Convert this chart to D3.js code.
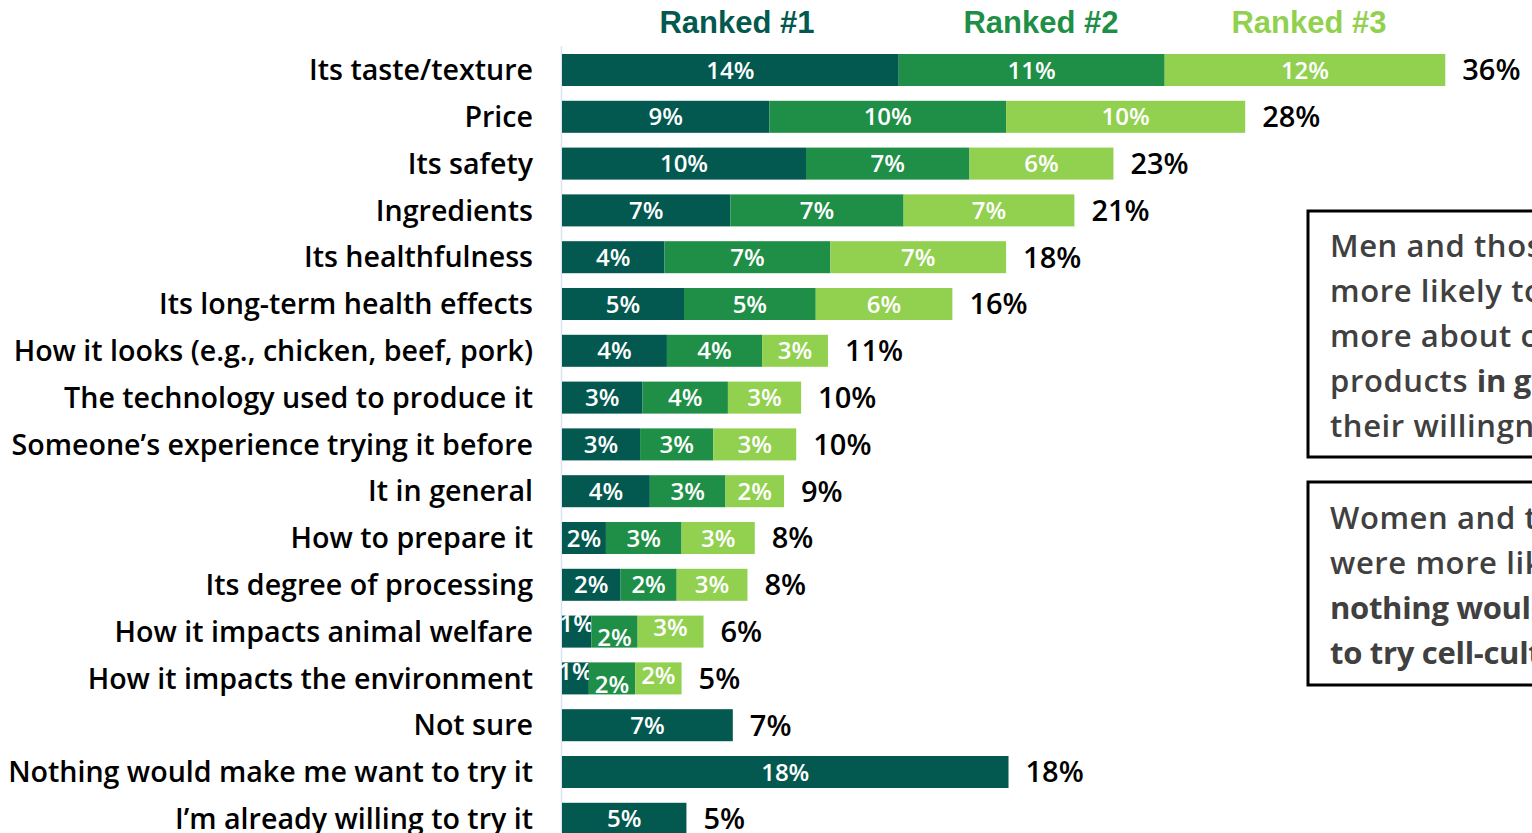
<!DOCTYPE html>
<html>
<head>
<meta charset="utf-8">
<script src="https://cdn.jsdelivr.net/npm/d3@7"></script>
<style>
  html, body { margin: 0; padding: 0; background: #fff; overflow: hidden; }
  svg { display: block; }
</style>
</head>
<body>
<svg id="chart" width="1532" height="833"></svg>
<script>
// What would make respondents want to try it — top-3 ranked reasons (%)
const categories = [
  "Its taste/texture",
  "Price",
  "Its safety",
  "Ingredients",
  "Its healthfulness",
  "Its long-term health effects",
  "How it looks (e.g., chicken, beef, pork)",
  "The technology used to produce it",
  "Someone\u2019s experience trying it before",
  "It in general",
  "How to prepare it",
  "Its degree of processing",
  "How it impacts animal welfare",
  "How it impacts the environment",
  "Not sure",
  "Nothing would make me want to try it",
  "I\u2019m already willing to try it"
];
const seriesNames = ["Ranked #1", "Ranked #2", "Ranked #3"];
const ranked1 = [13.8, 8.5, 10.0, 6.9, 4.2, 5.0, 4.3, 3.3, 3.2, 3.6, 1.8, 2.4, 1.2, 1.1, 7.0, 18.3, 5.1];
const ranked2 = [10.9, 9.7, 6.7, 7.1, 6.8, 5.4, 3.9, 3.5, 3.0, 3.1, 3.1, 2.3, 1.9, 1.9, 0, 0, 0];
const ranked3 = [11.5, 9.8, 5.9, 7.0, 7.2, 5.6, 2.7, 3.0, 3.4, 2.4, 3.0, 2.9, 2.7, 1.9, 0, 0, 0];
const colors = ["#03594f", "#1f8f47", "#92d050"];

// label nudges for the crowded thin bars (row index -> per-segment dy)
const labelNudge = { 12: [-8, 6, -4], 13: [-7, 6, -3] };

const svg = d3.select("#chart");
const W = 1532, H = 833;

const x = d3.scaleLinear().domain([0, 36]).range([562, 562 + 36 * 24.4]);
const y = d3.scaleBand()
  .domain(categories)
  .range([46.6, 46.6 + categories.length * 46.8])
  .paddingInner(0.316)
  .paddingOuter(0.158);

const rows = categories.map((c, i) => ({
  cat: c, i, vals: [ranked1[i], ranked2[i], ranked3[i]]
}));
const stack = d3.stack().keys([0, 1, 2]).value((d, k) => d.vals[k]);
const layers = stack(rows);

const fmt = v => Math.round(v) + "%";
const FONT = "'Open Sans', 'Liberation Sans', Arial, sans-serif";

// left axis line
svg.append("line")
  .attr("x1", 561.5).attr("x2", 561.5)
  .attr("y1", 46).attr("y2", H)
  .attr("stroke", "#d9e3f1").attr("stroke-width", 1.5);

// category labels
svg.append("g").selectAll("text")
  .data(categories)
  .join("text")
  .attr("x", 533)
  .attr("y", d => y(d) + y.bandwidth() / 2)
  .attr("dy", "0.36em")
  .attr("text-anchor", "end")
  .attr("font-family", FONT)
  .attr("font-weight", 600)
  .attr("font-size", 28.6)
  .attr("fill", "#000")
  .text(d => d);

// stacked bars
const g = svg.append("g");
layers.forEach((layer, k) => {
  const segs = layer.filter(d => d[1] - d[0] > 0);
  g.append("g").selectAll("rect")
    .data(segs)
    .join("rect")
    .attr("x", d => x(d[0]))
    .attr("y", d => y(d.data.cat))
    .attr("width", d => x(d[1]) - x(d[0]))
    .attr("height", y.bandwidth())
    .attr("fill", colors[k]);

  g.append("g").selectAll("text")
    .data(segs)
    .join("text")
    .attr("x", d => (x(d[0]) + x(d[1])) / 2)
    .attr("y", d => y(d.data.cat) + y.bandwidth() / 2 + (labelNudge[d.data.i] ? labelNudge[d.data.i][k] : 0))
    .attr("dy", "0.36em")
    .attr("text-anchor", "middle")
    .attr("font-family", FONT)
    .attr("font-weight", 600)
    .attr("font-size", 24)
    .attr("fill", "#fff")
    .text(d => fmt(d[1] - d[0]));
});

// totals
const last = layers[layers.length - 1];
svg.append("g").selectAll("text")
  .data(last)
  .join("text")
  .attr("x", d => x(d[1]) + 17)
  .attr("y", d => y(d.data.cat) + y.bandwidth() / 2)
  .attr("dy", "0.36em")
  .attr("font-family", FONT)
  .attr("font-weight", 600)
  .attr("font-size", 29)
  .attr("fill", "#000")
  .text(d => fmt(d[1]));

// legend
const legendX = [737, 1041, 1309];
svg.append("g").selectAll("text")
  .data(seriesNames)
  .join("text")
  .attr("x", (d, i) => legendX[i])
  .attr("y", 22)
  .attr("dy", "0.36em")
  .attr("text-anchor", "middle")
  .attr("font-family", "'Liberation Sans Narrow', 'Liberation Sans', Arial, sans-serif")
  .attr("font-weight", "bold")
  .attr("font-size", 31)
  .attr("fill", (d, i) => colors[i])
  .text(d => d);

// callout boxes
const callouts = [
  { top: 211, bottom: 457, lines: [
    [["Men and those", false]],
    [["more likely to", false]],
    [["more about cell-", false]],
    [["products ", false], ["in general", true]],
    [["their willingness", false]]
  ], y0: 246 },
  { top: 482, bottom: 685, lines: [
    [["Women and those", false]],
    [["were more likely", false]],
    [["nothing would", true]],
    [["to try cell-cultured", true]]
  ], y0: 518 }
];
callouts.forEach(c => {
  svg.append("rect")
    .attr("x", 1308).attr("y", c.top)
    .attr("width", 400).attr("height", c.bottom - c.top)
    .attr("fill", "none").attr("stroke", "#000").attr("stroke-width", 3);
  const t = svg.append("g");
  c.lines.forEach((parts, li) => {
    const txt = t.append("text")
      .attr("x", 1330)
      .attr("y", c.y0 + li * 45)
      .attr("dy", "0.36em")
      .attr("font-family", FONT)
      .attr("font-size", 31)
      .attr("fill", "#404040");
    parts.forEach(([s, b]) => {
      txt.append("tspan")
        .attr("font-weight", b ? 700 : 600)
        .attr("letter-spacing", b ? -0.3 : 0.6)
        .text(s);
    });
  });
});
</script>
</body>
</html>
